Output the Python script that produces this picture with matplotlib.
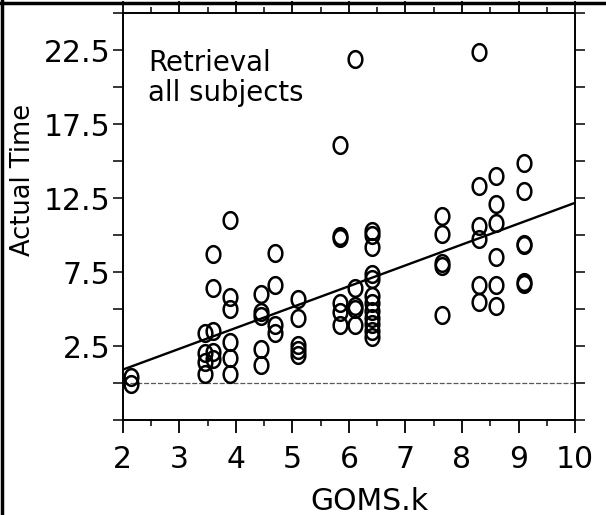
import numpy as np
import matplotlib
matplotlib.use("Agg")
import matplotlib.pyplot as plt
from matplotlib.path import Path
from matplotlib.lines import Line2D
from matplotlib.ticker import MultipleLocator, FuncFormatter

plt.rcParams['font.family'] = ['DejaVu Sans']

# data (GOMS.k prediction vs actual time)
goms_k = ([2.15] * 2 + [3.45] * 4 + [3.6] * 5 + [3.9] * 6 + [4.45] * 5 + [4.7] * 4 +
          [5.1] * 5 + [5.85] * 6 + [6.1] * 5 + [6.4] * 12 + [7.65] * 5 + [8.3] * 6 +
          [8.6] * 6 + [9.1] * 6)
actual_time = [0.4, -0.1,
               3.4, 2.0, 1.4, 0.6,
               8.7, 6.4, 3.5, 2.1, 1.6,
               11.0, 5.8, 5.0, 2.8, 1.7, 0.6,
               6.0, 4.8, 4.5, 2.3, 1.2,
               8.8, 6.6, 3.9, 3.4,
               5.7, 4.4, 2.6, 2.2, 1.9,
               16.1, 9.95, 9.8, 5.4, 4.8, 3.9,
               21.9, 6.4, 5.2, 5.0, 3.9,
               10.3, 10.0, 9.2, 7.4, 7.0, 5.9, 5.4, 4.9, 4.4, 4.0, 3.5, 3.1,
               11.3, 10.1, 8.1, 7.9, 4.6,
               22.4, 13.3, 10.6, 9.7, 6.6, 5.5,
               14.0, 12.1, 10.8, 8.5, 6.6, 5.2,
               14.9, 13.0, 9.4, 9.3, 6.8, 6.7]

# fitted line
fit_intercept = -1.92
fit_slope = 1.41

x_ticks = [2, 3, 4, 5, 6, 7, 8, 9, 10]
y_labels = [2.5, 7.5, 12.5, 17.5, 22.5]

# slightly tall open circle, like the scanned markers
t = np.linspace(0, 2 * np.pi, 60)
ellipse = Path(np.column_stack([0.82 * np.cos(t), np.sin(t)]), closed=True)

fig = plt.figure(figsize=(6.06, 5.15), dpi=100)
ax = fig.add_axes([0.2025, 0.1845, 0.7465, 0.790])

ax.axhline(0, color='0.35', lw=0.9, ls=(0, (4, 1.5)), zorder=1)

xs = np.array([2, 10])
ax.plot(xs, fit_intercept + fit_slope * xs, color='black', lw=1.7, zorder=2)

ax.plot(goms_k, actual_time, ls='none', marker=ellipse, ms=12,
        mfc='none', mec='black', mew=1.8, zorder=3)

ax.set_xlim(2, 10)
ax.set_ylim(-2.5, 25)

ax.set_xticks(x_ticks)
ax.xaxis.set_minor_locator(MultipleLocator(0.5))
ax.yaxis.set_major_locator(MultipleLocator(2.5))
ax.yaxis.set_major_formatter(FuncFormatter(
    lambda v, p: f"{v:g}" if any(abs(v - l) < 1e-6 for l in y_labels) else ""))

ax.tick_params(axis='x', which='major', direction='out', length=9, width=1.3,
               labelsize=21.5, pad=9, top=True)
ax.tick_params(axis='x', which='minor', direction='out', length=4, width=1.1, top=True)
ax.tick_params(axis='y', which='major', direction='out', length=7, width=1.1,
               labelsize=21.5, pad=2, right=True)

for s in ax.spines.values():
    s.set_linewidth(1.4)

ax.set_xlabel('GOMS.k', fontsize=21.5)
ax.xaxis.set_label_coords(0.545, -0.165)
ax.set_ylabel('Actual Time', fontsize=18.5)
ax.yaxis.set_label_coords(-0.192, 0.59)

ax.text(0.056, 0.913, 'Retrieval\nall subjects', transform=ax.transAxes,
        ha='left', va='top', fontsize=19.8, linespacing=1.1)

# scan border on left and top
fig.add_artist(Line2D([0.003, 0.003], [0, 1], transform=fig.transFigure, color='black', lw=2.5))
fig.add_artist(Line2D([0, 1], [0.995, 0.995], transform=fig.transFigure, color='black', lw=2.5))

fig.savefig('out.png', dpi=100)
